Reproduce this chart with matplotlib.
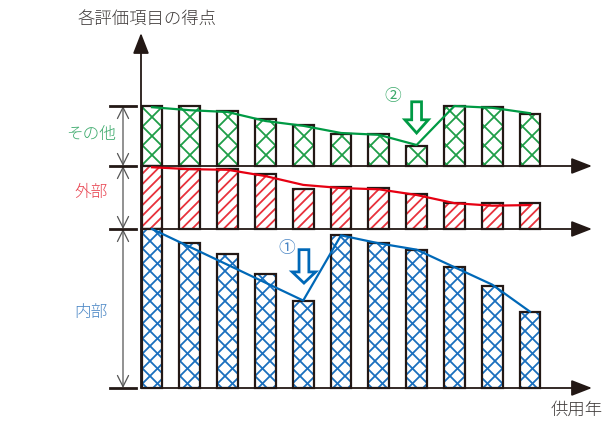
import numpy as np
import matplotlib.pyplot as plt
from matplotlib.patches import Polygon, FancyArrowPatch
from matplotlib.collections import LineCollection
from matplotlib.transforms import IdentityTransform

plt.rcParams['font.family'] = ['Noto Sans CJK JP', 'DejaVu Sans']

# scores, 100 = full height of each band
years = list(range(11))
other_scores = [100, 100, 92, 78, 68, 53, 53, 33, 100, 98, 87]
exterior_scores = [100, 95, 95, 87, 64, 66, 65, 56, 41, 41, 41]
interior_scores = [100, 91, 84, 72, 55, 96, 91, 87, 76, 64, 48]

# trend lines drawn over the bars
other_trend = [98, 93, 90, 75, 67, 55, 52, 35, 100, 97, 88]
exterior_trend = [98, 95, 94, 84, 70, 65, 63, 54, 41, 37, 38]
interior_trend_x = [0, 4, 5, 6, 7, 8, 9, 10]
interior_trend = [100, 55, 96, 91, 87, 76, 65, 48]

band_labels = ['その他', '外部', '内部']
title = '各評価項目の得点'
xlabel = '供用年'

GREEN, GREEN_H, GREEN_T = '#009a44', '#1f9e48', '#3aa96a'
RED, RED_H, RED_T = '#e60012', '#e8323c', '#e8414e'
BLUE, BLUE_H, BLUE_T = '#0068b7', '#1a6fbe', '#4a86c5'
EDGE = '#231815'
AXIS = '#6b6b6b'

W, H = 613, 421
fig = plt.figure(figsize=(W / 100, H / 100), dpi=100)


def fx(x):
    return x / W


def fy(y):
    return 1 - y / H


X_LEFT, X_RIGHT = 141, 592
X0, STEP = 152, 37.8


def panel_axes(y_top, y_base):
    ax = fig.add_axes([fx(X_LEFT), fy(y_base), (X_RIGHT - X_LEFT) / W, (y_base - y_top) / H])
    ax.set_xlim((X_LEFT - X0) / STEP, (X_RIGHT - X0) / STEP)
    ax.set_ylim(0, 100)
    ax.axis('off')
    # baseline with arrow head
    ax.annotate('', xy=(1, 0), xytext=(0, 0), xycoords='axes fraction',
                arrowprops=dict(arrowstyle='-|>,head_length=0.9,head_width=0.35', mutation_scale=14,
                                color=AXIS, lw=1.3, fc=EDGE, ec=EDGE, shrinkA=0, shrinkB=0))
    return ax


def hatch_bars(ax, bars, step, color, dirs):
    # hand-made hatching in pixel space so the spacing can be tuned
    for rect in bars:
        (x0, y0), (x1, y1) = ax.transData.transform(
            [(rect.get_x(), rect.get_y()),
             (rect.get_x() + rect.get_width(), rect.get_y() + rect.get_height())])
        segs = []
        if '/' in dirs:
            for c in np.arange(np.floor((y0 - x1) / step) * step, y1 - x0 + step, step):
                segs.append([(x0, x0 + c), (x1, x1 + c)])
        if '\\' in dirs:
            for c in np.arange(np.floor((x0 + y0) / step) * step, x1 + y1 + step, step):
                segs.append([(x0, c - x0), (x1, c - x1)])
        lc = LineCollection(segs, colors=color, linewidths=1.3,
                            transform=IdentityTransform(), zorder=2.5)
        ax.add_collection(lc, autolim=False)
        lc.set_clip_box(None)
        lc.set_clip_path(rect)


def draw_band(ax, values, step, hcolor, dirs):
    bars = ax.bar(years, values, width=0.55, color='white', linewidth=0, zorder=2, clip_on=False)
    hatch_bars(ax, bars, step, hcolor, dirs)
    ax.bar(years, values, width=0.55, fill=False, edgecolor=EDGE, linewidth=1.6,
           zorder=3, clip_on=False)


def hollow_arrow(ax, x, y_top, y_head, y_tip, color):
    sw, hw = 0.13, 0.31
    pts = [(x - sw, y_top), (x + sw, y_top), (x + sw, y_head), (x + hw, y_head),
           (x, y_tip), (x - hw, y_head), (x - sw, y_head)]
    ax.add_patch(Polygon(pts, closed=True, fill=False, ec=color, lw=2,
                         joinstyle='miter', clip_on=False, zorder=5))


ax_top = panel_axes(106, 166)
ax_mid = panel_axes(166, 229)
ax_bot = panel_axes(229, 388)

draw_band(ax_top, other_scores, 19, GREEN_H, '/\\')
draw_band(ax_mid, exterior_scores, 10.5, RED_H, '/')
draw_band(ax_bot, interior_scores, 15, BLUE_H, '/\\')

ax_top.plot(years, other_trend, color=GREEN, lw=1.6, zorder=4, clip_on=False)
ax_mid.plot(years, exterior_trend, color=RED, lw=1.6, zorder=4, clip_on=False)
ax_bot.plot(interior_trend_x, interior_trend, color=BLUE, lw=1.6, zorder=4, clip_on=False)

# markers for the sudden drops
hollow_arrow(ax_top, 7.0, 107, 77, 55, GREEN)
ax_top.text(6.38, 115, '②', color=GREEN_T, fontsize=12, ha='center', va='center', clip_on=False)
hollow_arrow(ax_bot, 4.02, 87, 73, 66, BLUE)
ax_bot.text(3.57, 88, '①', color=BLUE_T, fontsize=12, ha='center', va='center', clip_on=False)

# vertical axis
fig.add_artist(FancyArrowPatch(
    (fx(X_LEFT), fy(388)), (fx(X_LEFT), fy(33)), transform=fig.transFigure,
    arrowstyle='-|>,head_length=0.9,head_width=0.35', mutation_scale=14,
    color=AXIS, lw=1.3, fc=EDGE, ec=EDGE, shrinkA=0, shrinkB=0))

# dimension brackets on the left
levels = [106, 166, 229, 388]
for y in levels:
    fig.add_artist(plt.Line2D([fx(110), fx(136)], [fy(y), fy(y)], color=EDGE, lw=2))
for y1, y2 in zip(levels[:-1], levels[1:]):
    fig.add_artist(FancyArrowPatch(
        (fx(123), fy(y1)), (fx(123), fy(y2)), transform=fig.transFigure,
        arrowstyle='<->,head_length=0.8,head_width=0.4', mutation_scale=10,
        color='#555555', lw=0.9, shrinkA=0, shrinkB=0))

for label, color, y in zip(band_labels, [GREEN_T, RED_T, BLUE_T], [134, 193, 312]):
    fig.text(fx(91), fy(y), label, color=color, fontsize=12, ha='center', va='center',
             fontweight='light')

fig.text(fx(147), fy(20), title, color='#3e3a39', fontsize=12.5, ha='center', va='center',
         fontweight='light')
fig.text(fx(577), fy(410), xlabel, color='#3e3a39', fontsize=12.5, ha='center', va='center',
         fontweight='light')

fig.savefig('out.png', dpi=100)
